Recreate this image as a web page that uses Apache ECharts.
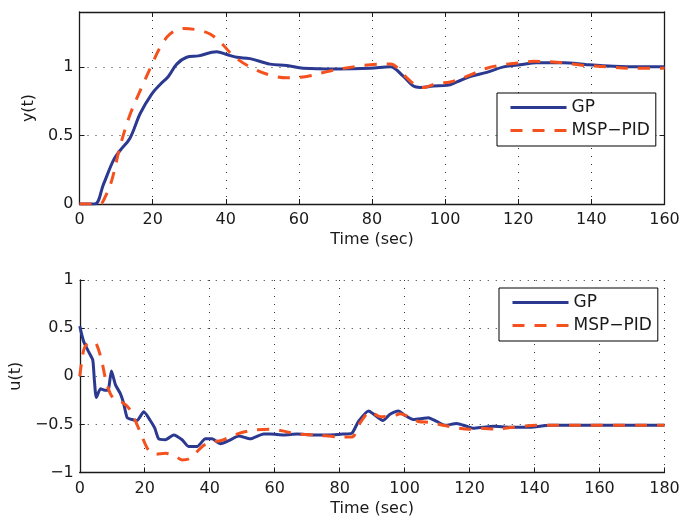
<!DOCTYPE html>
<html>
<head>
<meta charset="utf-8">
<script src="https://cdn.jsdelivr.net/npm/echarts@6/dist/echarts.min.js"></script>
<style>
html,body{margin:0;padding:0;background:#fff;}
#chart{width:697px;height:520px;}
</style>
</head>
<body>
<div id="chart"></div>
<script>
// ---- Data ----
const seriesNames = ['GP', 'MSP\u2212PID'];

// Top plot: y(t)
const tGP_y = [0,4.2,6.5,9.3,11.1,13.8,16.6,19.7,22,24.3,26.6,29.3,32.5,37.5,40.3,43,46.6,52.1,56.7,61.2,70.4,79.5,85,88.6,91.3,93.2,96.8,100.5,103.2,106.8,111.4,116,120.5,125.1,132.4,138.8,146.1,153.4,160];
const vGP_y = [0,0,0.14,0.32,0.39,0.48,0.66,0.80,0.87,0.93,1.02,1.07,1.08,1.11,1.09,1.07,1.06,1.02,1.01,0.99,0.985,0.99,1.0,0.93,0.86,0.85,0.86,0.865,0.89,0.93,0.96,1.0,1.016,1.03,1.03,1.016,1.004,1.0,1.0];
const tMSP_y = [0,5.6,7,8.8,11.1,13.8,17,19.7,22,24.8,28.4,32.1,35.7,38.9,42.1,46.6,52.1,56.7,62.1,68.5,74.9,79.5,85,89.1,92.2,94.1,97.7,101.4,105.9,111.4,116.9,120.5,124.2,130.6,137,144.3,150.6,160];
const vMSP_y = [0,0,0.05,0.17,0.42,0.65,0.85,1.01,1.14,1.24,1.28,1.27,1.24,1.17,1.08,1.0,0.94,0.92,0.93,0.97,1.0,1.016,1.02,0.93,0.86,0.85,0.88,0.89,0.93,0.99,1.02,1.03,1.04,1.033,1.013,1.0,0.99,0.99];

// Bottom plot: u(t)
const tGP_u = [0,1.2,2.8,4.0,4.5,5.1,6.4,7.7,8.7,9.75,11,12.5,13.5,14.6,16.1,17.6,19.7,21.7,23.1,24.3,26.4,28.9,31.5,33.5,36.1,38.7,40.7,43.3,46.4,48.9,52.5,56.6,58.7,62.8,66.9,72,77.1,81.2,83.8,85.8,88.9,90.9,93.3,95.5,98.1,100,102.7,105.3,107.3,109.9,112.5,116,119.1,121.2,124.2,127.3,132.4,138.6,144.7,150.9,180];
const vGP_u = [0.52,0.36,0.25,0.17,-0.04,-0.22,-0.13,-0.145,-0.145,0.055,-0.09,-0.18,-0.28,-0.43,-0.45,-0.46,-0.37,-0.46,-0.54,-0.65,-0.66,-0.61,-0.66,-0.73,-0.73,-0.65,-0.65,-0.70,-0.66,-0.62,-0.65,-0.60,-0.60,-0.61,-0.60,-0.61,-0.61,-0.60,-0.59,-0.47,-0.36,-0.405,-0.46,-0.395,-0.36,-0.405,-0.45,-0.44,-0.43,-0.47,-0.51,-0.49,-0.52,-0.54,-0.53,-0.52,-0.53,-0.53,-0.51,-0.51,-0.51];
const tMSP_u = [0,1.2,2.2,4.3,5.3,6.7,7.9,9.4,11,13,15.1,17.1,19.2,21.2,23.3,26.4,29.4,31.5,33.5,35.6,38.1,40.7,43.3,46.4,49.4,53.5,58.7,62.8,66.9,73,80.2,83.8,86.3,89.4,92.5,97.1,98.6,101.7,104.2,107.8,112,116.6,120.1,123.2,128.3,133.4,140.6,150.9,180];
const vMSP_u = [0,0.27,0.33,0.36,0.32,0.17,-0.02,-0.18,-0.25,-0.27,-0.33,-0.46,-0.63,-0.77,-0.81,-0.80,-0.83,-0.87,-0.86,-0.80,-0.72,-0.68,-0.67,-0.63,-0.59,-0.56,-0.55,-0.57,-0.60,-0.61,-0.63,-0.63,-0.485,-0.37,-0.42,-0.405,-0.39,-0.43,-0.47,-0.48,-0.51,-0.54,-0.55,-0.54,-0.55,-0.53,-0.51,-0.51,-0.51];

const xTicksTop = [0,20,40,60,80,100,120,140,160];
const xTicksBottom = [0,20,40,60,80,100,120,140,160,180];
const yTicksTop = [0,0.5,1];
const yTicksBottom = [-1,-0.5,0,0.5,1];

// ---- Styles ----
const FONT = '"DejaVu Sans", sans-serif';
const BLUE = '#2b3990';
const ORANGE = '#f4511e';
const AXC = '#1a1a1a';
const TXT = '#1a1a1a';

function zip(t, v){ return t.map((x,i)=>[x, v[i]]); }
function fmtNum(v){ return String(v).replace('-', '\u2212'); }

const splitLine = {show:true, lineStyle:{color:'#333', width:1, type:[1,7]}};
const labelStyle = {fontSize:16, fontFamily:FONT, color:TXT};

function xAxisMain(grid, max, ticks){
  return {
    type:'value', gridIndex:grid, min:0, max:max, interval:20, position:'bottom',
    axisLine:{show:true, onZero:false, lineStyle:{color:AXC, width:1.3}},
    axisTick:{show:true, inside:true, length:5, lineStyle:{color:AXC}},
    axisLabel:Object.assign({margin:8, formatter:v=> ticks.indexOf(v)>=0 ? fmtNum(v) : ''}, labelStyle),
    splitLine:splitLine,
    name:'Time (sec)', nameLocation:'middle', nameGap:28,
    nameTextStyle:{fontSize:16, fontFamily:FONT, color:TXT}
  };
}
function yAxisMain(grid, min, max, ticks, name){
  return {
    type:'value', gridIndex:grid, min:min, max:max, interval:0.5, position:'left',
    axisLine:{show:true, onZero:false, lineStyle:{color:AXC, width:1.3}},
    axisTick:{show:true, inside:true, length:5, lineStyle:{color:AXC}},
    axisLabel:Object.assign({margin:6, formatter:v=> ticks.indexOf(v)>=0 ? fmtNum(v) : ''}, labelStyle),
    splitLine:splitLine,
    name:name, nameLocation:'middle', nameGap:37,
    nameTextStyle:{fontSize:16, fontFamily:FONT, color:TXT}
  };
}
function legendAt(left, top){
  return { orient:'vertical', left:left, top:top, data:seriesNames, selectedMode:false,
    itemWidth:56, itemHeight:12, itemGap:6, padding:[6,6,7,12],
    borderColor:'#000', borderWidth:1, backgroundColor:'#fff',
    itemStyle:{opacity:0},
    lineStyle:{width:3},
    textStyle:{fontSize:17, lineHeight:17, fontFamily:FONT, color:TXT} };
}

const option = {
  backgroundColor:'#fff',
  animation:false,
  grid:[
    {left:79.5, top:12, width:585, height:192, containLabel:false},
    {left:79.5, top:280, width:585, height:192.5, containLabel:false}
  ],
  xAxis:[
    xAxisMain(0, 160, xTicksTop),
    { type:'value', gridIndex:0, min:0, max:160, interval:20, position:'top',
      axisLine:{show:true, onZero:false, lineStyle:{color:AXC, width:1.3}},
      axisTick:{show:true, inside:true, length:5, lineStyle:{color:AXC}},
      axisLabel:{show:false}, splitLine:{show:false} },
    xAxisMain(1, 180, xTicksBottom)
  ],
  yAxis:[
    yAxisMain(0, 0, 1.4, yTicksTop, 'y(t)'),
    { type:'value', gridIndex:0, min:0, max:1.4, interval:0.5, position:'right',
      axisLine:{show:true, onZero:false, lineStyle:{color:AXC, width:1.3}},
      axisTick:{show:true, inside:true, length:5, lineStyle:{color:AXC}},
      axisLabel:{show:false}, splitLine:{show:false} },
    yAxisMain(1, -1, 1, yTicksBottom, 'u(t)')
  ],
  legend:[ legendAt(497, 93), legendAt(499, 288) ],
  series:[
    { name:seriesNames[0], type:'line', xAxisIndex:0, yAxisIndex:0, data:zip(tGP_y, vGP_y),
      symbol:'none', smooth:0.35, lineStyle:{color:BLUE, width:3}, itemStyle:{color:BLUE}, z:2 },
    { name:seriesNames[1], type:'line', xAxisIndex:0, yAxisIndex:0, data:zip(tMSP_y, vMSP_y),
      symbol:'none', smooth:0.35, lineStyle:{color:ORANGE, width:3, type:[12,10]}, itemStyle:{color:ORANGE}, z:3 },
    { name:seriesNames[0], type:'line', xAxisIndex:2, yAxisIndex:2, data:zip(tGP_u, vGP_u),
      symbol:'none', smooth:0.2, lineStyle:{color:BLUE, width:3}, itemStyle:{color:BLUE}, z:2 },
    { name:seriesNames[1], type:'line', xAxisIndex:2, yAxisIndex:2, data:zip(tMSP_u, vMSP_u),
      symbol:'none', smooth:0.3, lineStyle:{color:ORANGE, width:3, type:[12,10]}, itemStyle:{color:ORANGE}, z:3 }
  ]
};

const chart = echarts.init(document.getElementById('chart'), null, {renderer:'canvas'});
chart.setOption(option);
</script>
</body>
</html>
